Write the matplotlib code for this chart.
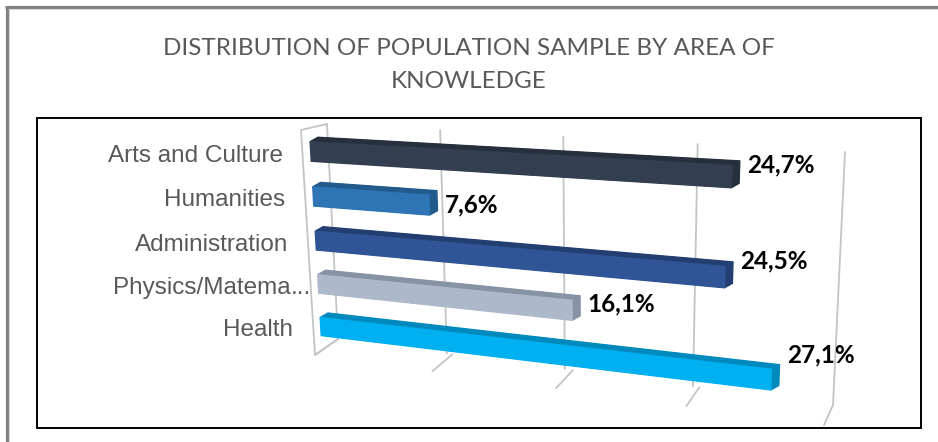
import numpy as np
import matplotlib
matplotlib.use("Agg")
import matplotlib.pyplot as plt
import matplotlib.transforms as mtransforms
from matplotlib.patches import Rectangle

# data
categories = ["Arts and Culture", "Humanities", "Administration", "Physics/Matema…", "Health"]
values = [24.7, 7.6, 24.5, 16.1, 27.1]
value_labels = ["24,7%", "7,6%", "24,5%", "16,1%", "27,1%"]
grid_ticks = [0, 10, 20, 30, 40]
title = "DISTRIBUTION OF POPULATION SAMPLE BY AREA OF\nKNOWLEDGE"

colors = ["#333f50", "#2e75b6", "#2f5597", "#adb9ca", "#00b0f0"]
dark_colors = ["#262f3c", "#225a8c", "#233f72", "#8793a5", "#0089bd"]


class Homography(mtransforms.Transform):
    """plane -> image pixels, fitted from 4 corner pairs (fake excel 3d look)"""
    input_dims = 2
    output_dims = 2

    def __init__(self, src, dst):
        super().__init__()
        A, b = [], []
        for (x, y), (u, v) in zip(src, dst):
            A.append([x, y, 1, 0, 0, 0, -u * x, -u * y])
            b.append(u)
            A.append([0, 0, 0, x, y, 1, -v * x, -v * y])
            b.append(v)
        h = np.linalg.solve(np.array(A, float), np.array(b, float))
        self.m = np.append(h, 1.0).reshape(3, 3)

    def transform_non_affine(self, values):
        xy = np.asarray(values, dtype=float).reshape(-1, 2)
        p = np.c_[xy, np.ones(len(xy))] @ self.m.T
        return p[:, :2] / p[:, 2:]


fig = plt.figure(figsize=(9.38, 4.42), dpi=100)
ax = fig.add_axes([0, 0, 1, 1])
ax.set_axis_off()

# planes of the pseudo 3d box (value, category) / (value, height) / (value, depth)
bars_plane = Homography([(0, 4), (25, 4), (0, 0), (25, 0)],
                        [(310, 151.5), (738, 177), (320, 326.5), (732, 375)])
wall_plane = Homography([(0, 1), (40, 1), (0, 0), (40, 0)],
                        [(327, 124), (845, 152), (338, 339), (833, 405)])
floor_plane = Homography([(0, 0), (40, 0), (0, 1), (40, 1)],
                         [(338, 339), (833, 405), (315, 355), (824, 425)])
side_plane = Homography([(0, 1), (1, 1), (0, 0), (1, 0)],
                        [(327, 124), (301, 130), (338, 339), (315, 355)])

T_bars = bars_plane + ax.transData
T_wall = wall_plane + ax.transData
T_floor = floor_plane + ax.transData
T_side = side_plane + ax.transData

grid_kw = dict(color="#c4c4c4", lw=1.3, zorder=1, solid_capstyle="round")
for t in grid_ticks:
    ax.plot([t, t], [0, 1], transform=T_wall, **grid_kw)
    ax.plot([t, t], [0, 1], transform=T_floor, **grid_kw)
ax.plot([0, 1, 1, 0], [1, 1, 0, 0], transform=T_side, **grid_kw)

pos = np.arange(len(categories))[::-1]
bar_h = 0.46
depth = (8, 4.5)  # pixels, right and up

# extruded sides first, then the front faces
for k in np.linspace(1, 0.1, 10):
    shift = mtransforms.Affine2D().translate(k * depth[0], k * depth[1])
    ax.barh(pos, values, height=bar_h, color=dark_colors, lw=0,
            transform=T_bars + shift, zorder=2)
ax.barh(pos, values, height=bar_h, color=colors, lw=0,
        transform=T_bars, zorder=3)

# category labels
lab_shift = mtransforms.Affine2D().translate(-27, -4)
for p, name in zip(pos, categories):
    kw = dict(transform=T_bars + lab_shift, va="center", fontsize=17.5,
              color="#595959", family="Liberation Sans", zorder=4)
    if name.endswith("…"):
        ax.text(0, p, name[:-1], ha="right", **kw)
        ax.text(0, p, "...", ha="left", **kw)
    else:
        ax.text(0, p, name, ha="right", **kw)

# value labels
label_dy = [12, 0, 16, 6, 25]
for p, v, s, dy in zip(pos, values, value_labels, label_dy):
    sh = mtransforms.Affine2D().translate(15, dy)
    ax.text(v, p, s, transform=T_bars + sh, ha="left", va="center",
            fontsize=17.5, fontweight="bold", color="black",
            family=["Lato", "DejaVu Sans"], zorder=4)

# title
ax.text(469, 65, title, ha="center", va="center", fontsize=17.5,
        color="#595959", family=["Lato", "DejaVu Sans"],
        linespacing=1.65)

# plot area box and outer frame
ax.add_patch(Rectangle((37, 118), 884, 310, fill=False, ec="black", lw=1.4, zorder=5))
ax.plot([6.5, 6.5], [442, 6.5], color="#808080", lw=2.3, solid_capstyle="butt")
ax.plot([5, 938], [6.5, 6.5], color="#808080", lw=2.3, solid_capstyle="butt")
ax.plot([9.2, 9.2], [442, 9.2], color="#d9d9d9", lw=0.8)
ax.plot([9.2, 938], [9.2, 9.2], color="#d9d9d9", lw=0.8)

ax.set_xlim(0, 938)
ax.set_ylim(442, 0)
fig.savefig("out.png", dpi=100)
